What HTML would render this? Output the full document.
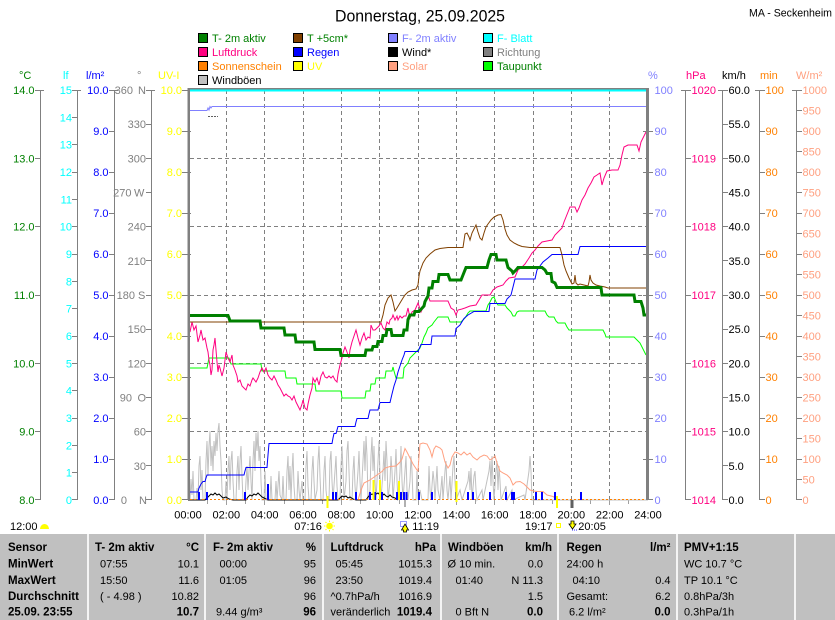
<!DOCTYPE html>
<html><head><meta charset="utf-8"><style>
html,body{margin:0;padding:0;background:#fff;}
body{width:835px;height:620px;overflow:hidden;}
svg{display:block;font-family:"Liberation Sans",Arial,sans-serif;}
</style></head><body>
<svg width="835" height="620" viewBox="0 0 835 620" xmlns="http://www.w3.org/2000/svg">
<rect x="0" y="0" width="835" height="620" fill="#fff"/>

<!-- Title -->
<text x="335" y="21.5" font-size="17" textLength="170" lengthAdjust="spacingAndGlyphs" fill="#000">Donnerstag, 25.09.2025</text>
<text x="749" y="16.5" font-size="11" textLength="83" lengthAdjust="spacingAndGlyphs" fill="#000">MA - Seckenheim</text>

<!-- Legend -->
<g font-size="11">
<rect x="198.5" y="33.5" width="9" height="9" fill="#008000" stroke="#000"/><text x="212" y="42" fill="#008000">T- 2m aktiv</text>
<rect x="198.5" y="47.5" width="9" height="9" fill="#ff0080" stroke="#000"/><text x="212" y="56" fill="#ff0080">Luftdruck</text>
<rect x="198.5" y="61.5" width="9" height="9" fill="#ff8000" stroke="#000"/><text x="212" y="70" fill="#ff8000">Sonnenschein</text>
<rect x="198.5" y="75.5" width="9" height="9" fill="#c0c0c0" stroke="#000"/><text x="212" y="84" fill="#000">Windböen</text>

<rect x="293.5" y="33.5" width="9" height="9" fill="#804000" stroke="#000"/><text x="307" y="42" fill="#008000">T +5cm*</text>
<rect x="293.5" y="47.5" width="9" height="9" fill="#0000ff" stroke="#000"/><text x="307" y="56" fill="#0000ff">Regen</text>
<rect x="293.5" y="61.5" width="9" height="9" fill="#ffff00" stroke="#000"/><text x="307" y="70" fill="#ffff00">UV</text>

<rect x="388.5" y="33.5" width="9" height="9" fill="#8080ff" stroke="#000"/><text x="402" y="42" fill="#8080ff">F- 2m aktiv</text>
<rect x="388.5" y="47.5" width="9" height="9" fill="#000" stroke="#000"/><text x="402" y="56" fill="#000">Wind*</text>
<rect x="388.5" y="61.5" width="9" height="9" fill="#ffa080" stroke="#000"/><text x="402" y="70" fill="#ffa080">Solar</text>

<rect x="483.5" y="33.5" width="9" height="9" fill="#00ffff" stroke="#000"/><text x="497" y="42" fill="#00ffff">F- Blatt</text>
<rect x="483.5" y="47.5" width="9" height="9" fill="#808080" stroke="#000"/><text x="497" y="56" fill="#808080">Richtung</text>
<rect x="483.5" y="61.5" width="9" height="9" fill="#00ff00" stroke="#000"/><text x="497" y="70" fill="#008000">Taupunkt</text>
</g>

<!-- Axis headers -->
<g font-size="11">
<text x="19" y="79" fill="#008000">°C</text>
<text x="63" y="79" fill="#00ffff">lf</text>
<text x="86" y="79" fill="#0000ff">l/m²</text>
<text x="137" y="79" fill="#808080">°</text>
<text x="158" y="79" fill="#ffff00">UV-I</text>
<text x="648" y="79" fill="#8080ff">%</text>
<text x="686" y="79" fill="#ff0080">hPa</text>
<text x="722" y="79" fill="#000">km/h</text>
<text x="760" y="79" fill="#ff8000">min</text>
<text x="796" y="79" fill="#ffa080">W/m²</text>
</g>

<!-- Axis lines -->
<g stroke="#808080" stroke-width="1" fill="none">
<line x1="40.5" y1="90" x2="40.5" y2="500"/>
<line x1="77.5" y1="90" x2="77.5" y2="500"/>
<line x1="114.5" y1="90" x2="114.5" y2="500"/>
<line x1="151.5" y1="90" x2="151.5" y2="500"/>
<line x1="685.5" y1="90" x2="685.5" y2="500"/>
<line x1="722.5" y1="90" x2="722.5" y2="500"/>
<line x1="759.5" y1="90" x2="759.5" y2="500"/>
<line x1="796.5" y1="90" x2="796.5" y2="500"/>
<!-- top ticks -->
<path d="M35,90.5H44 M72,90.5H81 M109,90.5H118 M146,90.5H155 M182,90.5H188 M681,90.5H691 M718,90.5H728 M755,90.5H765 M792,90.5H802"/>
<!-- °C ticks -->
<path d="M35,158.5H40 M35,226.5H40 M35,295.5H40 M35,363.5H40 M35,431.5H40 M35,499.5H40"/>
<!-- lf ticks -->
<path d="M72,117.5H77 M72,144.5H77 M72,172.5H77 M72,199.5H77 M72,226.5H77 M72,254.5H77 M72,281.5H77 M72,308.5H77 M72,336.5H77 M72,363.5H77 M72,390.5H77 M72,418.5H77 M72,445.5H77 M72,472.5H77 M72,499.5H77"/>
<!-- l/m2 ticks -->
<path d="M109,131.5H114 M109,172.5H114 M109,213.5H114 M109,254.5H114 M109,295.5H114 M109,336.5H114 M109,377.5H114 M109,418.5H114 M109,459.5H114 M109,499.5H114"/>
<!-- deg ticks -->
<path d="M146,124.5H151 M146,158.5H151 M146,192.5H151 M146,226.5H151 M146,260.5H151 M146,295.5H151 M146,329.5H151 M146,363.5H151 M146,397.5H151 M146,431.5H151 M146,465.5H151 M146,499.5H151"/>
<!-- UV ticks -->
<path d="M182,131.5H191 M182,172.5H191 M182,213.5H191 M182,254.5H191 M182,295.5H191 M182,336.5H191 M182,377.5H191 M182,418.5H191 M182,459.5H191 M182,499.5H188"/>
<!-- % ticks -->
<path d="M643,131.5H653 M643,172.5H653 M643,213.5H653 M643,254.5H653 M643,295.5H653 M643,336.5H653 M643,377.5H653 M643,418.5H653 M643,459.5H653 M649,499.5H653"/>
<!-- hPa ticks -->
<path d="M686,158.5H691 M686,226.5H691 M686,295.5H691 M686,363.5H691 M686,431.5H691 M686,499.5H691"/>
<!-- km/h ticks -->
<path d="M723,124.5H728 M723,158.5H728 M723,192.5H728 M723,226.5H728 M723,260.5H728 M723,295.5H728 M723,329.5H728 M723,363.5H728 M723,397.5H728 M723,431.5H728 M723,465.5H728 M723,499.5H728"/>
<!-- min ticks -->
<path d="M760,131.5H765 M760,172.5H765 M760,213.5H765 M760,254.5H765 M760,295.5H765 M760,336.5H765 M760,377.5H765 M760,418.5H765 M760,459.5H765 M760,499.5H765"/>
<!-- W/m2 ticks -->
<path d="M797,110.5H802 M797,131.5H802 M797,151.5H802 M797,172.5H802 M797,192.5H802 M797,213.5H802 M797,233.5H802 M797,254.5H802 M797,274.5H802 M797,295.5H802 M797,315.5H802 M797,336.5H802 M797,356.5H802 M797,377.5H802 M797,397.5H802 M797,418.5H802 M797,438.5H802 M797,459.5H802 M797,479.5H802 M797,499.5H802"/>
</g>

<!-- Left axis labels -->
<g font-size="11" text-anchor="end">
<g fill="#008000">
<text x="34.5" y="94">14.0</text><text x="34.5" y="162.3">13.0</text><text x="34.5" y="230.7">12.0</text><text x="34.5" y="299">11.0</text><text x="34.5" y="367.3">10.0</text><text x="34.5" y="435.7">9.0</text><text x="34.5" y="504">8.0</text>
</g>
<g fill="#00ffff">
<text x="72" y="94">15</text><text x="72" y="121.3">14</text><text x="72" y="148.7">13</text><text x="72" y="176">12</text><text x="72" y="203.3">11</text><text x="72" y="230.7">10</text><text x="72" y="258">9</text><text x="72" y="285.3">8</text><text x="72" y="312.7">7</text><text x="72" y="340">6</text><text x="72" y="367.3">5</text><text x="72" y="394.7">4</text><text x="72" y="422">3</text><text x="72" y="449.3">2</text><text x="72" y="476.7">1</text><text x="72" y="504">0</text>
</g>
<g fill="#0000ff">
<text x="108.5" y="94">10.0</text><text x="108.5" y="135">9.0</text><text x="108.5" y="176">8.0</text><text x="108.5" y="217">7.0</text><text x="108.5" y="258">6.0</text><text x="108.5" y="299">5.0</text><text x="108.5" y="340">4.0</text><text x="108.5" y="381">3.0</text><text x="108.5" y="422">2.0</text><text x="108.5" y="463">1.0</text><text x="108.5" y="504">0.0</text>
</g>
<g fill="#808080">
<text x="133" y="94">360</text><text x="146" y="128.2">330</text><text x="146" y="162.3">300</text><text x="131.5" y="196.5">270</text><text x="146" y="230.7">240</text><text x="146" y="264.8">210</text><text x="135" y="299">180</text><text x="146" y="333.2">150</text><text x="146" y="367.3">120</text><text x="132" y="401.5">90</text><text x="146" y="435.7">60</text><text x="146" y="469.8">30</text><text x="127" y="504">0</text>
</g>
<g fill="#ffff00">
<text x="182" y="94">10.0</text><text x="182" y="135">9.0</text><text x="182" y="176">8.0</text><text x="182" y="217">7.0</text><text x="182" y="258">6.0</text><text x="182" y="299">5.0</text><text x="182" y="340">4.0</text><text x="182" y="381">3.0</text><text x="182" y="422">2.0</text><text x="182" y="463">1.0</text><text x="182" y="504">0.0</text>
</g>
</g>
<g font-size="11" fill="#808080">
<text x="138" y="94">N</text><text x="134" y="196.5">W</text><text x="138" y="299">S</text><text x="137.5" y="401.5">O</text><text x="139" y="504">N</text>
</g>

<!-- Right axis labels -->
<g font-size="11">
<g fill="#8080ff">
<text x="654.5" y="94">100</text><text x="654.5" y="135">90</text><text x="654.5" y="176">80</text><text x="654.5" y="217">70</text><text x="654.5" y="258">60</text><text x="654.5" y="299">50</text><text x="654.5" y="340">40</text><text x="654.5" y="381">30</text><text x="654.5" y="422">20</text><text x="654.5" y="463">10</text><text x="654.5" y="504">0</text>
</g>
<g fill="#ff0080">
<text x="691.5" y="94">1020</text><text x="691.5" y="162.3">1019</text><text x="691.5" y="230.7">1018</text><text x="691.5" y="299">1017</text><text x="691.5" y="367.3">1016</text><text x="691.5" y="435.7">1015</text><text x="691.5" y="504">1014</text>
</g>
<g fill="#000">
<text x="728.5" y="94">60.0</text><text x="728.5" y="128.2">55.0</text><text x="728.5" y="162.3">50.0</text><text x="728.5" y="196.5">45.0</text><text x="728.5" y="230.7">40.0</text><text x="728.5" y="264.8">35.0</text><text x="728.5" y="299">30.0</text><text x="728.5" y="333.2">25.0</text><text x="728.5" y="367.3">20.0</text><text x="728.5" y="401.5">15.0</text><text x="728.5" y="435.7">10.0</text><text x="728.5" y="469.8">5.0</text><text x="728.5" y="504">0.0</text>
</g>
<g fill="#ff8000">
<text x="765.5" y="94">100</text><text x="765.5" y="135">90</text><text x="765.5" y="176">80</text><text x="765.5" y="217">70</text><text x="765.5" y="258">60</text><text x="765.5" y="299">50</text><text x="765.5" y="340">40</text><text x="765.5" y="381">30</text><text x="765.5" y="422">20</text><text x="765.5" y="463">10</text><text x="765.5" y="504">0</text>
</g>
<g fill="#ffa080">
<text x="802.5" y="94">1000</text><text x="802.5" y="114.5">950</text><text x="802.5" y="135">900</text><text x="802.5" y="155.5">850</text><text x="802.5" y="176">800</text><text x="802.5" y="196.5">750</text><text x="802.5" y="217">700</text><text x="802.5" y="237.5">650</text><text x="802.5" y="258">600</text><text x="802.5" y="278.5">550</text><text x="802.5" y="299">500</text><text x="802.5" y="319.5">450</text><text x="802.5" y="340">400</text><text x="802.5" y="360.5">350</text><text x="802.5" y="381">300</text><text x="802.5" y="401.5">250</text><text x="802.5" y="422">200</text><text x="802.5" y="442.5">150</text><text x="802.5" y="463">100</text><text x="802.5" y="483.5">50</text><text x="802.5" y="504">0</text>
</g>
</g>

<!-- Grid -->
<g stroke="#808080" stroke-width="1" stroke-dasharray="4,3" fill="none">
<path d="M226.5,90V500 M264.5,90V500 M303.5,90V500 M341.5,90V500 M379.5,90V500 M418.5,90V500 M456.5,90V500 M494.5,90V500 M533.5,90V500 M571.5,90V500 M609.5,90V500"/>
<path d="M190,158.5H646 M190,226.5H646 M190,295.5H646 M190,363.5H646 M190,431.5H646"/>
</g>

<!-- hourly x ticks -->
<g stroke="#a0a0a0" stroke-width="1">
<path d="M207.5,500V504 M245.5,500V504 M284.5,500V504 M322.5,500V504 M360.5,500V504 M399.5,500V504 M437.5,500V504 M475.5,500V504 M513.5,500V504 M552.5,500V504 M590.5,500V504 M628.5,500V504 M226.5,500V505 M264.5,500V505 M303.5,500V505 M341.5,500V505 M379.5,500V505 M418.5,500V505 M456.5,500V505 M494.5,500V505 M533.5,500V505 M571.5,500V505 M609.5,500V505"/>
</g>

<!-- Wind gusts -->
<polyline fill="none" stroke="#c0c0c0" stroke-width="1" points="188,500 189,486 190,500 191,479 192,495 193,471 194,500 196,500 197,488 198,500 199,466 200,456 201,490 202,470 203,500 205,500 206,461 207,441 208,476 209,446 210,431 211,466 212,446 213,471 214,441 215,456 216,433 217,451 218,431 219,423 220,446 221,461 222,490 223,500 225,500 226,481 227,500 228,471 229,456 230,490 231,461 232,451 233,481 234,500 236,500 237,471 238,456 239,490 240,461 241,446 242,476 243,500 245,500 246,481 247,466 248,490 249,471 250,456 251,481 252,500 253,461 254,441 255,471 256,433 257,451 258,431 259,461 260,446 261,481 262,500 264,500 265,471 266,500 270,500 271,476 272,500 275,500 276,481 277,500 279,471 280,495 282,500 283,476 284,500 286,500 287,471 288,456 289,490 290,466 291,500 292,471 293,453 294,486 295,500 297,500 298,471 299,490 300,500 302,481 303,500 305,500 306,466 307,451 308,486 309,500 311,500 312,471 313,456 314,481 315,500 317,490 318,461 319,446 320,476 321,500 323,500 324,471 325,456 326,490 327,500 329,500 330,461 331,451 332,481 333,500 335,471 336,456 337,486 338,500 340,500 341,466 342,446 343,471 344,500 346,481 347,451 348,441 349,471 350,500 352,500 353,471 354,456 355,486 356,500 358,471 359,451 360,481 361,500 363,461 364,441 365,471 366,436 367,456 368,500 370,490 371,456 372,437 373,471 374,446 375,481 376,500 378,461 379,441 380,476 381,500 383,471 384,451 385,481 386,441 387,461 388,500 390,481 391,456 392,471 393,500 395,471 396,449 397,481 398,500 400,471 401,446 402,481 403,500 405,471 406,456 407,490 408,500 410,481 411,456 412,471 413,500 416,500 417,471 418,500 420,490 422,500 428,500 429,466 430,490 431,500 433,471 434,481 435,500 437,466 438,490 440,500 442,476 443,500 445,471 446,461 447,490 448,500 450,476 451,500 453,466 454,456 455,481 456,500 460,490 462,500 468,481 469,471 470,490 471,468 472,500 474,476 475,471 476,490 477,500 482,490 483,500 489,471 490,461 491,486 492,456 493,481 494,500 496,471 497,461 498,490 499,466 500,481 501,500 506,486 507,500 512,490 513,500 524,495 525,500 529,471 530,456 531,471 532,500 648,500"/>

<!-- Solar -->
<polyline fill="none" stroke="#ffa080" stroke-width="1" points="358,500 361,490 364,483 370,480 377,475 382,471.5 385,468 390,466.5 396,466 400,462 402,459 404,452 405,448.5 407,452 409,456 411,460 413,464 415,467 417,470 418,471 419,456 420,444 423,443 427,444 430,450 432,457 434,449 436,446 440,448 442,450 445,462 448,468 450,465 452,457 455,452 458,453 461,455 464,452 467,455 470,453 473,457 477,460 480,457 484,455 487,456 490,460 493,458 495,456 497,463 500,471 503,473 507,475 510,478 513,485 516,482 520,481.5 524,484 527,487 530,490 534,491 537,491.5 543,491.5 547,495 553,496.5 557,499.3 560,500"/>

<!-- Wind -->
<polyline fill="none" stroke="#000" stroke-width="1" points="188,500 205,500 207,498 209,496 211,494 213,495 215,493 217,495 219,494 221,496 223,498 226,497 229,499 233,500 246,500 248,497 250,495 252,496 254,494 256,495 258,493 260,495 262,497 264,498 268,500 338,500 340,498 342,496 344,497 346,496 348,498 350,497 353,499 356,500 366,500 368,497 370,495 372,494 374,496 376,494 378,493 380,495 382,496 384,494 386,496 388,497 390,495 392,497 395,498 398,500"/>

<!-- Sonnenschein (0) -->
<line x1="190" y1="499.5" x2="646" y2="499.5" stroke="#ff8000" stroke-width="1" stroke-dasharray="2,2"/>

<!-- Dewpoint -->
<polyline fill="none" stroke="#00ff00" stroke-width="1" points="188,368 207,368 208,363 209,358 229,358 230,361 231,364 261,364 262,371 285,371 286,378 296,378 297,384 315,384 316,391 341,391 342,398 365,398 366,391 370,391 371,384 375,384 376,378 385,378 386,371 392,371 393,367 394,371 396,378 403,378 404,368 408,363 410,358 413,355 418,350 420,348 422,343 424,337 426,333 428,328 432,325 434,322 438,317 448,317 450,322 461,322 463,320 465,318 468,313 470,311 486,311 488,305 490,302 492,298 494,297 496,302 498,305 505,305 507,308 509,310 511,312 513,316 515,316 517,312 519,311 545,311 547,315 549,317 554,317 556,321 558,323 565,323 567,327 569,330 603,330 605,334 606,337 634,337 636,339 638,341 640,343 642,347 644,351 646,355"/>

<!-- Rain cumulative -->
<polyline fill="none" stroke="#0000ff" stroke-width="1" points="188,492 198,492 199,488 201,484 203,481.5 205,481.5 206,478 207,475 244,475 245,471 246,467.5 267,467.5 268,455 269,443.5 332,443.5 333,438 334,433.5 336,433.5 337,430 338,426.5 355,426.5 356,422 357,418.5 368,418.5 369,414 370,410 378,410 379,406 380,402.5 390,402.5 392,394 394,386 396,380 398,372 400,366 402,360 404,355 405,351.5 418,351.5 421,344.5 431,344.5 432,336 455,336 456,328.5 460,325 464,318.5 468,315 474,311.5 489,311.5 490,303.5 505,303.5 507,299 511,295 513,287 515,279 535,279 537,270 543,262 548,258 552,254.5 578,254.5 580,246.5 646,246.5"/>

<!-- Pressure -->
<polyline fill="none" stroke="#ff0080" stroke-width="1" points="188,325 190,332 192,322 194,330 196,326 198,342 200,335 201,330 203,340 205,338 207,348 208,352 209,360 210,365 211,375 212,370 213,350 214,345 215,338 216,350 217,362 218,372 219,365 220,368 222,376 224,368 226,352 228,358 230,362 232,355 233,365 235,370 237,376 238,382 240,380 242,386 244,388 246,390 248,384 250,386 252,380 253,378 256,382 258,378 260,372 262,368 264,372 266,368 268,375 270,378 272,380 274,376 276,380 278,385 280,388 282,392 284,396 286,394 288,396 290,397 292,400 294,396 296,402 298,406 300,410 302,404 303,400 305,408 307,410 308,404 310,395 312,388 313,378 315,382 317,378 319,385 321,376 323,372 325,377 327,378 329,376 331,378 333,376 335,380 337,382 338,374 340,365 342,358 343,353 345,347 347,352 349,358 350,350 352,342 354,336 356,330 358,338 360,345 362,338 364,333 366,340 368,337 370,338 371,325 373,330 375,330 377,328 379,326 381,323 383,328 385,330 387,322 389,324 390,320 392,318 393,315 395,320 397,316 398,320 400,316 402,318 404,316 406,316 408,308 410,318 412,312 415,310 418,303 421,312 424,305 427,298 428,295 430,301 436,301 442,301 448,301 451,308 454,310 456,315 458,310 462,309 465,308 470,306 476,305 479,300 482,295 490,295 493,290 497,287 503,285 506,281 509,278 515,277 518,270 522,267 525,264 527,261 529,258 532,253 535,250 538,246 542,242 547,241 552,240 555,235 558,232 562,228 564,222 566,217 568,212 570,207 575,207 577,212 579,208 582,200 585,195 588,188 591,183 594,177 597,175 600,173 602,185 604,178 607,171 612,170 618,170 620,165 622,155 624,147 628,145 632,145 637,145 639,151 641,142 643,138 646,132"/>

<!-- T +5cm -->
<polyline fill="none" stroke="#804000" stroke-width="1" points="188,322 381,322 383,315 385,305 388,298 391,295 393,302 395,311 397,308 400,303 403,298 405,295 408,292 412,290 416,289 418,285 419,276 420,271 423,263 426,258 430,254 435,250 440,248.5 448,247.5 463,247.5 465,234 467,233 469,237 470,240 472,233 474,229 476,225 478,232 480,238 482,240 484,233 486,227 488,224 491,220 494,217 498,215 501,214.5 503,220 505,229 507,235 510,240 514,243 518,245 522,246.5 530,247.5 560,247.5 562,255 564,265 566,271 569,278 572,284 574,283 575,275 576,283 578,285 580,284 584,285 588,286 589,282 590,275 591,280 593,283 596,285 600,286 605,287 608,288 646,288"/>

<!-- T 2m -->
<polyline fill="none" stroke="#008000" stroke-width="3" points="188,315.5 228,315.5 229,318 230,321 260,321 261,328 284,328 285,335 295,335 296,342 314,342 315,349.5 340,349.5 341,355.5 365,355.5 366,350 372,350 373,346.5 377,346.5 378,341.5 382,341.5 383,335.5 386,335.5 387,329.5 391,329.5 392,335.5 403,335.5 404,330 407,330 408,319.5 410,315 414,315 415,311.5 419,311.5 424,306 425,301.5 428,296 429,288 432,288 433,281.5 438,281.5 439,274.5 448,274.5 450,280 461,280 463,275 466,267.5 487,267.5 489,260 491,254.5 496,254.5 497,260 506,260 508,267.5 512,271 513,273 516,270 518,267.5 542,267.5 545,270 547,273.5 551,273.5 552,281.5 555,283 557,287.5 601,287.5 602,295 634,295 635,301.5 641,301.5 643,308 644,315 646,315"/>

<!-- Humidity -->
<polyline fill="none" stroke="#8080ff" stroke-width="1" points="190,110.5 207,110.5 208,108 209,110 210,106.5 211,108 212,106.5 646,106.5"/>

<!-- Richtung -->
<line x1="208" y1="116.5" x2="218" y2="116.5" stroke="#606060" stroke-width="1" stroke-dasharray="2,1"/>

<!-- Rain bars -->
<g fill="#0000ff">
<rect x="188" y="492" width="2" height="8"/><rect x="198" y="492" width="2" height="8"/><rect x="206" y="492" width="2" height="8"/><rect x="244" y="492" width="2" height="8"/><rect x="267" y="484" width="2" height="16"/><rect x="332" y="492" width="2" height="8"/><rect x="335" y="492" width="2" height="8"/><rect x="355" y="492" width="2" height="8"/><rect x="369" y="492" width="2" height="8"/><rect x="374" y="492" width="2" height="8"/><rect x="381" y="492" width="2" height="8"/><rect x="396" y="492" width="2" height="8"/><rect x="399" y="492" width="3" height="8"/><rect x="403" y="492" width="2" height="8"/><rect x="405.5" y="492" width="2" height="8"/><rect x="418" y="492" width="2" height="8"/><rect x="431" y="492" width="2" height="8"/><rect x="455" y="492" width="2" height="8"/><rect x="467" y="492" width="2" height="8"/><rect x="472" y="492" width="2" height="8"/><rect x="489" y="492" width="2" height="8"/><rect x="505" y="492" width="2" height="8"/><rect x="511" y="492" width="4" height="8"/><rect x="535" y="492" width="2" height="8"/><rect x="541" y="492" width="2" height="8"/><rect x="554" y="492" width="2" height="8"/><rect x="580" y="492" width="2" height="8"/>
</g>

<!-- UV bars -->
<g fill="#ffff00">
<rect x="372.5" y="480" width="2" height="20"/><rect x="379" y="480" width="2" height="20"/><rect x="398" y="481" width="2" height="19"/><rect x="455.5" y="481" width="2" height="21"/>
<rect x="326.5" y="496" width="2" height="12"/><rect x="556" y="496" width="2" height="12"/>
</g>
<rect x="404.5" y="500" width="1" height="7" fill="#606060"/>
<rect x="570.5" y="500" width="3" height="8" fill="#606060"/>

<!-- Plot borders -->
<rect x="188" y="88" width="461" height="1.5" fill="#808080"/>
<rect x="190" y="89.5" width="456" height="2" fill="#00ffff"/>
<rect x="187.5" y="88" width="2.5" height="412" fill="#808080"/>
<rect x="646" y="88" width="3" height="412" fill="#808080"/>

<!-- X labels -->
<g font-size="11" text-anchor="middle" fill="#000">
<text x="188" y="518.5">00:00</text><text x="226.3" y="518.5">02:00</text><text x="264.7" y="518.5">04:00</text><text x="303" y="518.5">06:00</text><text x="341.3" y="518.5">08:00</text><text x="379.7" y="518.5">10:00</text><text x="418" y="518.5">12:00</text><text x="456.3" y="518.5">14:00</text><text x="494.7" y="518.5">16:00</text><text x="533" y="518.5">18:00</text><text x="571.3" y="518.5">20:00</text><text x="609.7" y="518.5">22:00</text><text x="648" y="518.5">24:00</text>
</g>

<!-- Sun/moon row -->
<g font-size="11" fill="#000">
<text x="10" y="530">12:00</text>
<text x="294.3" y="530">07:16</text>
<text x="412.3" y="530">11:19</text>
<text x="525" y="530">19:17</text>
<text x="578.3" y="530">20:05</text>
</g>
<path d="M40,529 A4.5,5 0 0 1 49,529 Z" fill="#ffff00"/>
<circle cx="329.5" cy="526" r="3.3" fill="#ffff00"/>
<g stroke="#ffff00" stroke-width="1"><path d="M329.5,520.5V522 M329.5,530V531.5 M324,526H325.5 M333.5,526H335 M325.5,522L326.5,523 M333.5,522L332.5,523 M325.5,530L326.5,529 M333.5,530L332.5,529"/></g>
<rect x="400.5" y="521.5" width="6" height="5" fill="none" stroke="#3030ff" stroke-width="1" stroke-dasharray="1,1"/>
<path d="M405,524 L408.5,530 L406.5,530 L406.5,532 L403.5,532 L403.5,530 L401.5,530 Z" fill="#ffff00" stroke="#000" stroke-width="0.8"/>
<rect x="556.5" y="523.5" width="4" height="4" fill="none" stroke="#ffff00" stroke-width="1"/>
<path d="M571,521 L574,521 L574,524 L576,524 L572.5,529 L569,524 L571,524 Z" fill="#ffff00" stroke="#000" stroke-width="0.8"/>
<path d="M572,530 L578,530" stroke="#3030ff" stroke-width="1" stroke-dasharray="1,1"/>

<!-- Table -->
<rect x="0" y="534" width="835" height="86" fill="#c0c0c0"/>
<g fill="#f4f4f4">
<rect x="87" y="534" width="2" height="86"/><rect x="204" y="534" width="2" height="86"/><rect x="322" y="534" width="2" height="86"/><rect x="440" y="534" width="2" height="86"/><rect x="557" y="534" width="2" height="86"/><rect x="676" y="534" width="2" height="86"/><rect x="794" y="534" width="2" height="86"/>
</g>
<g font-size="11.5" font-weight="bold" fill="#000">
<text x="8" y="551">Sensor</text><text x="8" y="567.5">MinWert</text><text x="8" y="584">MaxWert</text><text x="8" y="600">Durchschnitt</text><text x="8" y="615.5">25.09. 23:55</text>
<text x="95" y="551">T- 2m aktiv</text><text x="199" y="551" text-anchor="end">°C</text>
<text x="213" y="551">F- 2m aktiv</text><text x="316" y="551" text-anchor="end">%</text>
<text x="330.5" y="551">Luftdruck</text><text x="436" y="551" text-anchor="end">hPa</text>
<text x="448" y="551">Windböen</text><text x="552" y="551" text-anchor="end">km/h</text>
<text x="566.5" y="551">Regen</text><text x="670.5" y="551" text-anchor="end">l/m²</text>
<text x="684" y="551">PMV+1:15</text>
<text x="199" y="615.5" text-anchor="end">10.7</text>
<text x="316" y="615.5" text-anchor="end">96</text>
<text x="432" y="615.5" text-anchor="end">1019.4</text>
<text x="543" y="615.5" text-anchor="end">0.0</text>
<text x="670.5" y="615.5" text-anchor="end">0.0</text>
</g>
<g font-size="11" fill="#000">
<text x="100" y="567.5">07:55</text><text x="199" y="567.5" text-anchor="end">10.1</text>
<text x="100" y="584">15:50</text><text x="199" y="584" text-anchor="end">11.6</text>
<text x="100" y="600">( - 4.98 )</text><text x="199" y="600" text-anchor="end">10.82</text>

<text x="219.5" y="567.5">00:00</text><text x="316" y="567.5" text-anchor="end">95</text>
<text x="219.5" y="584">01:05</text><text x="316" y="584" text-anchor="end">96</text>
<text x="316" y="600" text-anchor="end">96</text>
<text x="216" y="615.5">9.44 g/m³</text>

<text x="335.5" y="567.5">05:45</text><text x="432" y="567.5" text-anchor="end">1015.3</text>
<text x="335.5" y="584">23:50</text><text x="432" y="584" text-anchor="end">1019.4</text>
<text x="330.5" y="600">^0.7hPa/h</text><text x="432" y="600" text-anchor="end">1016.9</text>
<text x="330.5" y="615.5">veränderlich</text>

<text x="447.5" y="567.5">Ø 10 min.</text><text x="543" y="567.5" text-anchor="end">0.0</text>
<text x="455.5" y="584">01:40</text><text x="543" y="584" text-anchor="end">N 11.3</text>
<text x="543" y="600" text-anchor="end">1.5</text>
<text x="455.5" y="615.5">0 Bft N</text>

<text x="566.5" y="567.5">24:00 h</text>
<text x="572.5" y="584">04:10</text><text x="670.5" y="584" text-anchor="end">0.4</text>
<text x="566.5" y="600">Gesamt:</text><text x="670.5" y="600" text-anchor="end">6.2</text>
<text x="569" y="615.5">6.2 l/m²</text>

<text x="684" y="567.5">WC 10.7 °C</text>
<text x="684" y="584">TP 10.1 °C</text>
<text x="684" y="600">0.8hPa/3h</text>
<text x="684" y="615.5">0.3hPa/1h</text>
</g>
</svg>
</body></html>
